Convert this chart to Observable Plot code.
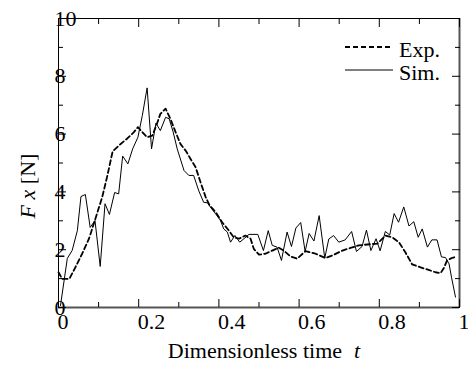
<!DOCTYPE html>
<html><head><meta charset="utf-8">
<script src="https://cdn.jsdelivr.net/npm/d3@7"></script>
<script src="https://cdn.jsdelivr.net/npm/@observablehq/plot@0.6"></script>
<style>body{margin:0;background:#fff}</style>
</head><body><div id="chart"></div>
<script>
const simT = [0.005,0.022,0.034,0.047,0.056,0.067,0.079,0.091,0.104,0.116,0.127,0.140,0.150,0.160,0.173,0.185,0.198,0.209,0.221,0.232,0.243,0.254,0.267,0.276,0.286,0.296,0.313,0.325,0.337,0.350,0.362,0.372,0.379,0.392,0.404,0.412,0.421,0.429,0.440,0.452,0.465,0.475,0.497,0.511,0.523,0.533,0.545,0.556,0.570,0.581,0.592,0.604,0.615,0.625,0.637,0.650,0.664,0.674,0.686,0.699,0.715,0.731,0.743,0.757,0.768,0.779,0.792,0.802,0.815,0.826,0.837,0.848,0.861,0.874,0.886,0.897,0.907,0.920,0.931,0.944,0.955,0.965,0.974,0.980,0.990];
const simF = [0.07,1.70,1.97,2.66,3.84,3.91,2.77,3.01,1.42,3.59,3.22,3.98,3.93,5.24,4.97,5.49,5.89,6.64,7.60,5.49,6.38,6.12,6.58,6.53,6.07,5.49,4.74,4.57,4.57,4.03,3.64,3.62,3.47,3.24,3.01,2.72,2.61,2.26,2.49,2.26,2.41,2.53,2.53,1.97,2.66,2.15,2.09,1.63,2.61,2.11,2.75,2.94,1.94,2.56,2.30,3.18,1.71,2.37,2.49,2.26,2.34,2.63,1.94,2.11,2.68,1.97,2.38,1.96,2.63,2.51,3.25,2.95,3.48,2.82,2.97,2.43,2.72,2.09,2.34,2.34,1.75,1.73,1.51,1.05,0.36];
const expT = [0,0.009,0.027,0.042,0.059,0.076,0.092,0.109,0.121,0.135,0.155,0.171,0.188,0.198,0.209,0.221,0.234,0.244,0.254,0.267,0.279,0.292,0.304,0.317,0.329,0.342,0.354,0.367,0.377,0.392,0.408,0.425,0.437,0.450,0.466,0.479,0.487,0.500,0.516,0.533,0.549,0.562,0.579,0.595,0.616,0.641,0.666,0.683,0.708,0.728,0.749,0.770,0.795,0.816,0.832,0.849,0.865,0.882,0.903,0.923,0.940,0.953,0.961,0.969,0.982,0.990];
const expF = [1.22,0.99,0.99,1.39,1.86,2.38,3.07,3.82,4.51,5.40,5.66,5.84,6.07,6.24,6.07,5.89,5.95,6.30,6.70,6.88,6.53,6.07,5.66,5.43,5.15,4.85,4.34,3.82,3.53,3.30,2.95,2.66,2.43,2.38,2.49,2.38,2.03,1.83,1.86,1.97,2.07,1.97,1.76,1.69,1.95,1.86,1.71,1.80,1.97,2.06,2.15,2.18,2.21,2.49,2.43,2.26,1.91,1.49,1.39,1.30,1.22,1.19,1.37,1.63,1.72,1.75];
const xMajor = [0,0.2,0.4,0.6,0.8,1];
const xMinor = [0.1,0.3,0.5,0.7,0.9];
const yMajor = [0,2,4,6,8,10];
const yMinor = [1,3,5,7,9];
const seriesNames = ["Exp.","Sim."];

const sim = simT.map((t,i)=>({t, F: simF[i]}));
const exp = expT.map((t,i)=>({t, F: expF[i]}));
const fmt = d => String(+d.toFixed(1));
const none = () => "";
const FONT = "'Liberation Serif', 'Times New Roman', serif";

const tickAxes = [];
for (const anchor of ["bottom","top"]) {
  tickAxes.push(Plot.axisX(xMajor, {anchor, tickSize:-8, tickFormat:none, label:null, stroke:"black"}));
  tickAxes.push(Plot.axisX(xMinor, {anchor, tickSize:-5, tickFormat:none, label:null, stroke:"black"}));
}
for (const anchor of ["left","right"]) {
  tickAxes.push(Plot.axisY(yMajor, {anchor, tickSize:-8, tickFormat:none, label:null, stroke:"black"}));
  tickAxes.push(Plot.axisY(yMinor, {anchor, tickSize:-5, tickFormat:none, label:null, stroke:"black"}));
}

const svg = Plot.plot({
  width: 468, height: 365,
  marginLeft: 58, marginRight: 9, marginTop: 18, marginBottom: 58,
  x: {domain: [0,1]},
  y: {domain: [0,10]},
  style: {fontFamily: FONT, fontSize: "22px", background: "white", color: "black", overflow: "visible"},
  marks: [
    Plot.line(exp, {x:"t", y:"F", stroke:"black", strokeWidth:1.8, strokeDasharray:"5,3"}),
    Plot.line(sim, {x:"t", y:"F", stroke:"black", strokeWidth:1}),
    Plot.frame({stroke:"black", strokeWidth:1}),
    Plot.ruleY([0], {stroke:"#555", strokeWidth:2}),
    Plot.ruleX([1], {stroke:"#555", strokeWidth:2}),
    ...tickAxes,
    Plot.axisX(xMajor, {anchor:"bottom", tickSize:0, tickPadding:6, textAnchor:"start", dx:-1, tickFormat:fmt, label:null, fill:"black", fontSize:22}),
    Plot.axisY(yMajor, {anchor:"left", tickSize:0, tickPadding:4, textAnchor:"start", tickFormat:fmt, label:null, fill:"black", fontSize:22})
  ]
});
document.getElementById("chart").appendChild(svg);

const s = d3.select(svg);
// y label
const yl = s.append("text").attr("transform","translate(35,186) rotate(-90)")
  .attr("text-anchor","middle").attr("font-family",FONT).attr("font-size",22).attr("fill","black");
yl.append("tspan").attr("font-style","italic").text("F x");
yl.append("tspan").text(" [N]");
// x label
const xl = s.append("text").attr("x",264).attr("y",358)
  .attr("text-anchor","middle").attr("font-family",FONT).attr("font-size",22).attr("fill","black");
xl.append("tspan").text("Dimensionless time");
xl.append("tspan").attr("dx",12).attr("font-style","italic").text("t");
// legend
const leg = s.append("g").attr("font-family",FONT).attr("font-size",22).attr("fill","black").attr("text-anchor","start");
[[47,"5,3",1.8],[70,null,1]].forEach(([y,dash,w],i)=>{
  leg.append("line").attr("x1",345).attr("x2",393).attr("y1",y).attr("y2",y)
    .attr("stroke","black").attr("stroke-width",w).attr("stroke-dasharray",dash);
  leg.append("text").attr("x",399).attr("y",y+10).attr("text-anchor","start").text(seriesNames[i]);
});
</script></body></html>
